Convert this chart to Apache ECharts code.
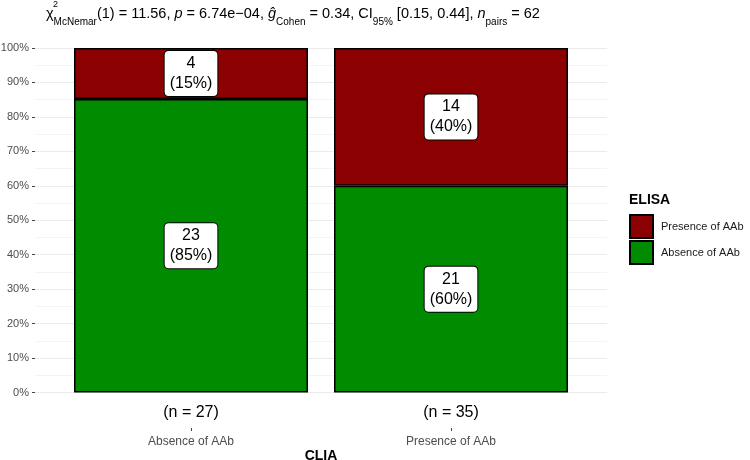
<!DOCTYPE html>
<html>
<head>
<meta charset="utf-8">
<script src="https://cdn.jsdelivr.net/npm/echarts@6/dist/echarts.min.js"></script>
<style>
  html, body { margin: 0; padding: 0; background: #fff; }
  #myChart { width: 750px; height: 460px; }
</style>
</head>
<body>
<div id="myChart"></div>
<script>
const categories = ['Absence of AAb', 'Presence of AAb'];
const presenceCounts = [4, 14];
const absenceCounts = [23, 21];
const yTicks = [0, 10, 20, 30, 40, 50, 60, 70, 80, 90, 100];

const totals = categories.map((c, i) => presenceCounts[i] + absenceCounts[i]);
const presencePct = presenceCounts.map((v, i) => v / totals[i] * 100);
const absencePct = absenceCounts.map((v, i) => v / totals[i] * 100);

const font = 'Liberation Sans, Arial, Helvetica, sans-serif';
const myChart = echarts.init(document.getElementById('myChart'));

function barLabel (counts, pct) {
  return {
    show: true,
    position: 'inside',
    formatter: p => counts[p.dataIndex] + '\n(' + Math.round(pct[p.dataIndex]) + '%)',
    fontFamily: font,
    fontSize: 16,
    lineHeight: 20,
    color: '#000',
    backgroundColor: '#fff',
    borderColor: '#000',
    borderWidth: 1,
    borderRadius: 4,
    padding: [3, 5, 2, 5]
  };
}

myChart.setOption({
  animation: false,
  textStyle: { fontFamily: font },
  graphic: [
    {
      type: 'text',
      left: 46,
      top: 6,
      style: {
        text: '{t|χ}{sub|McNemar}{t|(1) = 11.56, }{i|p}{t| = 6.74e−04, }{i|ĝ}{sub|Cohen}{t| = 0.34, CI}{sub|95%}{t| [0.15, 0.44], }{i|n}{sub|pairs}{t| = 62}',
        rich: {
          t: { fontFamily: font, fontSize: 14.5, lineHeight: 17, color: '#000' },
          i: { fontFamily: font, fontSize: 14.5, lineHeight: 17, fontStyle: 'italic', color: '#000' },
          sub: { fontFamily: font, fontSize: 10, lineHeight: 10, verticalAlign: 'bottom', color: '#000', padding: [0, 0, -5, 0] }
        }
      }
    },
    {
      type: 'text',
      left: 53,
      top: 0,
      style: { text: '2', fontFamily: font, fontSize: 9, fill: '#000' }
    },
    {
      type: 'text',
      left: 629,
      top: 193,
      style: { text: 'ELISA', fontFamily: font, fontSize: 14, fontWeight: 'bold', fill: '#000' }
    }
  ],
  legend: {
    data: ['Presence of AAb', 'Absence of AAb'],
    orient: 'vertical',
    left: 629,
    top: 214,
    itemWidth: 23,
    itemHeight: 23,
    itemGap: 1,
    padding: 0,
    icon: 'rect',
    textStyle: { fontFamily: font, fontSize: 11, color: '#1a1a1a', padding: [0, 0, 0, 3] }
  },
  grid: [
    { left: 35, right: 143, top: 48, bottom: 67.5, outerBoundsMode: 'none' },
    { left: 61, right: 169, top: 48, bottom: 67.5, outerBoundsMode: 'none' }
  ],
  xAxis: [
    { type: 'value', gridIndex: 0, min: 0, max: 1, show: false },
    {
      type: 'category',
      gridIndex: 1,
      data: categories,
      axisLine: { show: false },
      axisTick: { show: false },
      axisLabel: {
        margin: 12,
        fontSize: 16,
        color: '#000',
        formatter: (v, i) => '(n = ' + totals[i] + ')'
      }
    },
    {
      type: 'category',
      gridIndex: 1,
      position: 'bottom',
      offset: 35.5,
      data: categories,
      axisLine: { show: false },
      axisTick: { show: true, alignWithLabel: true, length: 3, lineStyle: { color: '#444' } },
      axisLabel: { margin: 8, fontSize: 12, color: '#4d4d4d' },
      name: 'CLIA',
      nameLocation: 'middle',
      nameGap: 21,
      nameMoveOverlap: false,
      nameTextStyle: { fontSize: 14, fontWeight: 'bold', color: '#000' }
    }
  ],
  yAxis: [
    {
      type: 'value',
      gridIndex: 0,
      min: yTicks[0],
      max: yTicks[yTicks.length - 1],
      interval: 10,
      axisLine: { show: false },
      axisTick: { show: true, length: 3, lineStyle: { color: '#444' } },
      axisLabel: { margin: 6, fontSize: 11, color: '#4d4d4d', formatter: '{value}%' },
      splitLine: { lineStyle: { color: '#ebebeb', width: 1 } },
      minorTick: { show: false, splitNumber: 2 },
      minorSplitLine: { show: true, lineStyle: { color: '#f4f4f4', width: 1 } }
    },
    { type: 'value', gridIndex: 1, min: 0, max: 100, show: false }
  ],
  series: [
    {
      name: 'Absence of AAb',
      type: 'bar',
      xAxisIndex: 1,
      yAxisIndex: 1,
      stack: 'total',
      barWidth: '90%',
      data: absencePct,
      itemStyle: { color: '#008b00', borderColor: '#000', borderWidth: 1.5 },
      label: barLabel(absenceCounts, absencePct)
    },
    {
      name: 'Presence of AAb',
      type: 'bar',
      xAxisIndex: 1,
      yAxisIndex: 1,
      stack: 'total',
      barWidth: '90%',
      data: presencePct,
      itemStyle: { color: '#8b0000', borderColor: '#000', borderWidth: 1.5 },
      label: barLabel(presenceCounts, presencePct)
    }
  ]
});
</script>
</body>
</html>
